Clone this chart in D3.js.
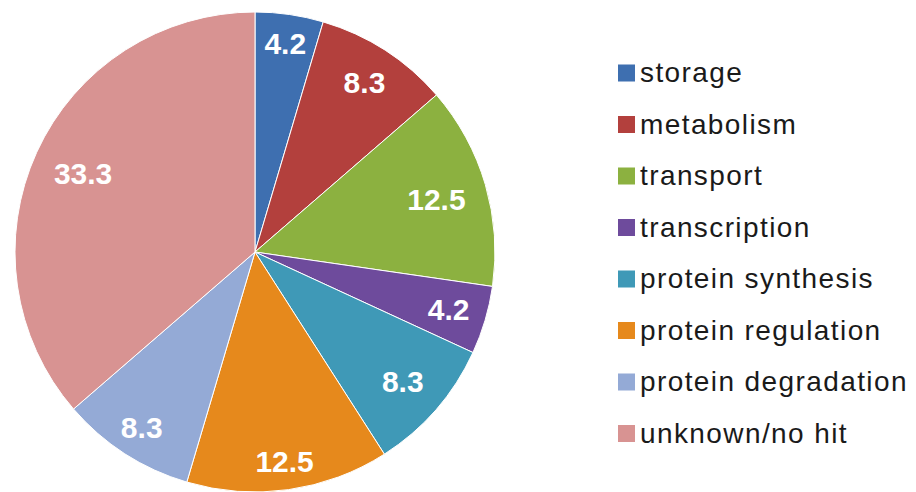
<!DOCTYPE html>
<html>
<head>
<meta charset="utf-8">
<script src="https://cdn.jsdelivr.net/npm/d3@7"></script>
<style>
  html, body { margin: 0; padding: 0; background: #fff; }
  svg { display: block; font-family: "Liberation Sans", Arial, sans-serif; }
</style>
</head>
<body>
<svg id="chart" width="916" height="492"></svg>
<script>
// Functional categories and their shares (%)
const categories = [
  "storage", "metabolism", "transport", "transcription",
  "protein synthesis", "protein regulation", "protein degradation", "unknown/no hit"
];
const values = [4.2, 8.3, 12.5, 4.2, 8.3, 12.5, 8.3, 33.3];
const colors = [
  "#3e6fb0", "#b3403d", "#8cb140", "#6e4b9c",
  "#3f99b7", "#e6891c", "#94aad6", "#d89392"
];
// distance of each value label from the pie centre (best-fit placement)
const labelRadii = [211, 202, 189, 202, 196, 211, 209, 189];

const width = 916, height = 492;
const cx = 255, cy = 252, radius = 240;

const svg = d3.select("#chart");
const data = categories.map((c, i) => ({ category: c, value: values[i], color: colors[i] }));

const pie = d3.pie().value(d => d.value).sort(null);
const arcs = pie(data);

const arc = d3.arc().innerRadius(0).outerRadius(radius);

const g = svg.append("g").attr("transform", `translate(${cx},${cy})`);

g.selectAll("path.slice")
  .data(arcs)
  .join("path")
  .attr("class", "slice")
  .attr("d", arc)
  .attr("fill", d => d.data.color)
  .attr("stroke", "#ffffff")
  .attr("stroke-width", 1);

g.selectAll("text.value")
  .data(arcs)
  .join("text")
  .attr("class", "value")
  .attr("transform", (d, i) => {
    const r = labelRadii[i];
    const c = d3.arc().innerRadius(r).outerRadius(r).centroid(d);
    return `translate(${c})`;
  })
  .attr("text-anchor", "middle")
  .attr("dy", "0.36em")
  .attr("fill", "#ffffff")
  .attr("font-weight", "bold")
  .attr("font-size", 30)
  .text(d => d.data.value.toFixed(1));

// Legend
const legendX = 618, legendY0 = 73, legendStep = 51.5, sw = 17;
const legend = svg.append("g");
const item = legend.selectAll("g.item")
  .data(data)
  .join("g")
  .attr("class", "item")
  .attr("transform", (d, i) => `translate(${legendX},${legendY0 + i * legendStep})`);

item.append("rect")
  .attr("x", 0)
  .attr("y", -sw / 2)
  .attr("width", sw)
  .attr("height", sw)
  .attr("fill", d => d.color);

item.append("text")
  .attr("x", 22)
  .attr("y", 9)
  .attr("font-size", 28)
  .attr("letter-spacing", 1.4)
  .attr("fill", "#1a1a1a")
  .text(d => d.category);
</script>
</body>
</html>
